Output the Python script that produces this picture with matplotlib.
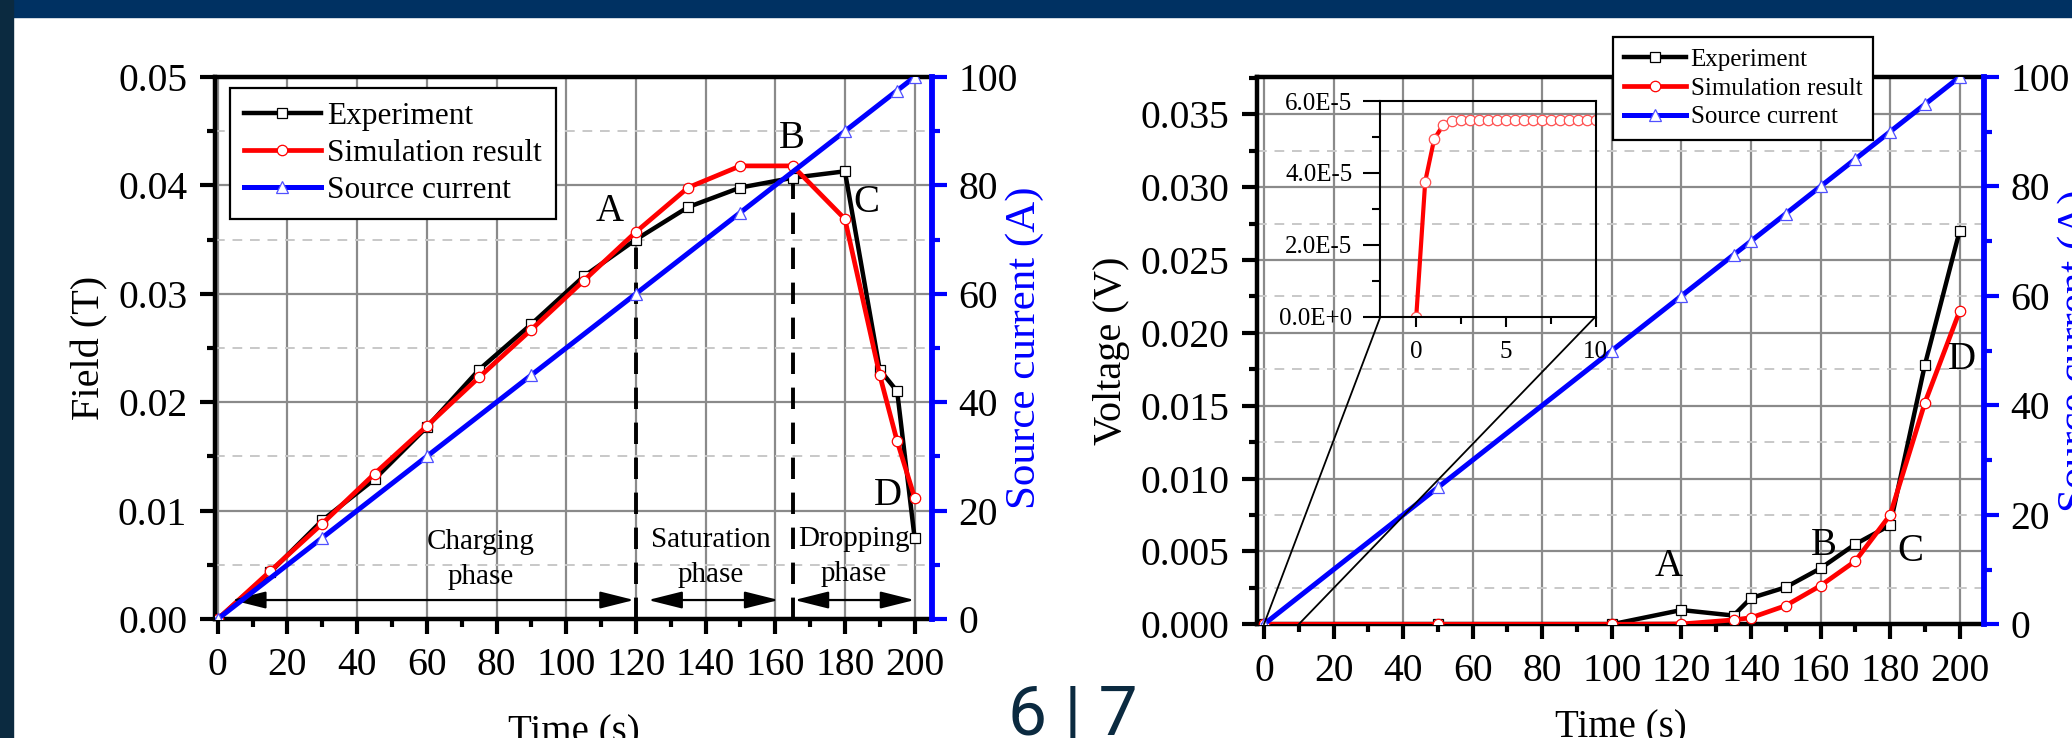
import matplotlib
matplotlib.use("Agg")
import matplotlib.pyplot as plt
from matplotlib.patches import Rectangle, ConnectionPatch, ArrowStyle
from matplotlib.ticker import MultipleLocator, FormatStrFormatter

plt.rcParams['font.family'] = ['Liberation Serif', 'DejaVu Serif']

# --- magnetic field during charging / saturation / dropping ---
field_time = [0, 15, 30, 45, 60, 75, 90, 105, 120, 135, 150, 165, 180, 190, 195, 200]
field_exp = [0.0, 0.0043, 0.0091, 0.0129, 0.0177, 0.0230, 0.0272, 0.0316, 0.0350,
             0.0380, 0.0398, 0.0407, 0.0413, 0.0230, 0.0210, 0.0075]
field_sim = [0.0, 0.0044, 0.0088, 0.0134, 0.0178, 0.0223, 0.0267, 0.0312, 0.0357,
             0.0398, 0.0418, 0.0418, 0.0369, 0.0225, 0.0164, 0.0112]
field_src_time = [0, 30, 60, 90, 120, 150, 180, 195, 200]
field_src = [0, 15, 30, 45, 60, 75, 90, 97.5, 100]

# --- terminal voltage over the same ramp ---
volt_time = [0, 50, 100, 120, 135, 140, 150, 160, 170, 180, 190, 200]
volt_exp = [0.0, 0.0, 0.0, 0.00098, 0.0006, 0.0018, 0.00254, 0.00384, 0.0055,
            0.0068, 0.0178, 0.0270]
volt_sim = [0.0, 0.0, 0.0, 0.00002, 0.0003, 0.00045, 0.00128, 0.00265, 0.00434,
            0.0075, 0.0152, 0.0215]
volt_src = [0, 25, 50, 60, 67.5, 70, 75, 80, 85, 90, 95, 100]

# first 10 s of the simulated voltage (zoomed view)
inset_time = [0, 0.5, 1.0, 1.5, 2.0, 2.5, 3.0, 3.5, 4.0, 4.5, 5.0, 5.5, 6.0, 6.5,
              7.0, 7.5, 8.0, 8.5, 9.0, 9.5, 10.0]
inset_sim = [0.0, 3.76e-5, 4.94e-5, 5.33e-5, 5.44e-5, 5.47e-5, 5.48e-5, 5.48e-5,
             5.48e-5, 5.48e-5, 5.48e-5, 5.48e-5, 5.48e-5, 5.48e-5, 5.48e-5,
             5.48e-5, 5.48e-5, 5.48e-5, 5.48e-5, 5.48e-5, 5.48e-5]
inset_yticks = [0, 2e-5, 4e-5, 6e-5]
inset_ylabels = ['0.0E+0', '2.0E-5', '4.0E-5', '6.0E-5']

phase_names = ['Charging\nphase', 'Saturation\nphase', 'Dropping\nphase']
phase_spans = [(4, 119.5), (123.5, 161), (165.5, 200)]
phase_text_pos = [(75.5, 0.0055), (141.6, 0.0057), (182.5, 0.0058)]
phase_marks = [120, 165]   # boundaries drawn as dashed lines

field_points = {'A': (112.5, 0.0376), 'B': (164.9, 0.0443), 'C': (186.1, 0.0384), 'D': (192.3, 0.0114)}
volt_points = {'A': (116.2, 0.0040), 'B': (160.9, 0.0054), 'C': (185.7, 0.0050), 'D': (200.7, 0.0182)}

GRID = '#8a8a8a'
MINOR_GRID = '#c8c8c8'
NAVY = '#003162'
DARK = '#0b2a40'
TICK_FS = 28.5


def style_axes(ax, ax2, xlim, ylim, ymaj, ymin, yfmt, xpad):
    ax.set_xlim(*xlim)
    ax.set_ylim(*ylim)
    ax2.set_ylim(0, 100)
    ax.xaxis.set_major_locator(MultipleLocator(20))
    ax.xaxis.set_minor_locator(MultipleLocator(10))
    ax.yaxis.set_major_locator(MultipleLocator(ymaj))
    ax.yaxis.set_minor_locator(MultipleLocator(ymin))
    ax.yaxis.set_major_formatter(FormatStrFormatter(yfmt))
    ax2.yaxis.set_major_locator(MultipleLocator(20))
    ax2.yaxis.set_minor_locator(MultipleLocator(10))

    ax.tick_params(which='major', direction='out', length=11, width=3, labelsize=TICK_FS,
                   top=False, right=False)
    ax.tick_params(which='minor', direction='out', length=6, width=3, top=False, right=False)
    ax.tick_params(axis='y', which='major', pad=9)
    ax.tick_params(axis='x', which='major', pad=xpad)
    ax2.tick_params(axis='y', which='major', direction='out', length=11, width=3,
                    color='blue', labelcolor='black', labelsize=TICK_FS, pad=8)
    ax2.tick_params(axis='y', which='minor', direction='out', length=6, width=3, color='blue')

    for s in ['left', 'bottom', 'top']:
        ax.spines[s].set_linewidth(3.2)
        ax2.spines[s].set_visible(False)
    ax.spines['right'].set_visible(False)
    ax2.spines['right'].set_color('blue')
    ax2.spines['right'].set_linewidth(4.2)

    ax.set_axisbelow(True)
    ax.grid(which='major', axis='both', color=GRID, lw=1.6)
    ax.yaxis.grid(which='minor', color=MINOR_GRID, lw=1.4, ls=(0, (5, 4)))


def plot_series(ax, ax2, t, exp, sim, t_src, src):
    ax.plot(t, exp, color='black', lw=3.2, marker='s', ms=6.5, mfc='white', mec='black',
            mew=0.9, label='Experiment', zorder=3)
    ax.plot(t, sim, color='red', lw=3.4, marker='o', ms=7.5, mfc='white', mec='red',
            mew=0.9, label='Simulation result', zorder=4)
    ax2.plot(t_src, src, color='blue', lw=3.6, marker='^', ms=8.5, mfc='white', mec='#5050ff',
             mew=0.9, label='Source current', zorder=5)


def add_legend(ax, ax2, anchor, fontsize):
    h1, l1 = ax.get_legend_handles_labels()
    h2, l2 = ax2.get_legend_handles_labels()
    leg = ax2.legend(h1 + h2, l1 + l2, loc='upper left', bbox_to_anchor=anchor,
                     borderaxespad=0, fancybox=False, framealpha=1, edgecolor='black',
                     fontsize=fontsize, handlelength=2.45, handletextpad=0.2,
                     labelspacing=0.25, borderpad=0.45, numpoints=1)
    leg.get_frame().set_linewidth(1.6)
    leg.set_zorder(20)


fig = plt.figure(figsize=(20.72, 7.38), dpi=100)

# slide chrome: title bar, side strip and page number
fig.patches.append(Rectangle((0, 1 - 17 / 738), 1, 17 / 738, transform=fig.transFigure,
                             color=NAVY, zorder=0))
fig.patches.append(Rectangle((0, 0), 13 / 2072, 1, transform=fig.transFigure,
                             color=DARK, zorder=0))
fig.text(1073 / 2072, 1 - 735 / 738, '6 | 7', family='Roboto', fontsize=50,
         color=DARK, ha='center', va='baseline')

# ---------------- left: field ----------------
axL = fig.add_axes([215 / 2072, 1 - 619 / 738, 717 / 2072, 542 / 738])
axL2 = axL.twinx()
style_axes(axL, axL2, (-0.8, 205), (0, 0.05), 0.01, 0.005, '%.2f', 9)
plot_series(axL, axL2, field_time, field_exp, field_sim, field_src_time, field_src)

for tm in phase_marks:
    axL.vlines(tm, 0, field_exp[field_time.index(tm)], colors='black', lw=2.8,
               linestyles=(0, (5.5, 3.5)), zorder=2)

head = ArrowStyle('<|-|>', head_length=1.4, head_width=0.35)
for (t0, t1) in phase_spans:
    axL.annotate('', xy=(t1, 0.00175), xytext=(t0, 0.00175),
                 arrowprops=dict(arrowstyle=head, mutation_scale=15, lw=1.6, color='black',
                                 shrinkA=0, shrinkB=0), zorder=6)
for name, (tx, ty) in zip(phase_names, phase_text_pos):
    axL.text(tx, ty, name, fontsize=21, ha='center', va='center', linespacing=1.45, zorder=6)
for lab, (tx, ty) in field_points.items():
    axL.text(tx, ty, lab, fontsize=28, ha='center', va='center', zorder=6)

axL.set_xlabel('Time (s)', fontsize=28, labelpad=22)
axL.set_ylabel('Field (T)', fontsize=29, labelpad=7)
axL2.set_ylabel('Source current (A)', fontsize=31, color='blue', labelpad=-9)
add_legend(axL, axL2, (0.021, 0.98), 22.5)

# ---------------- right: voltage ----------------
axR = fig.add_axes([1257 / 2072, 1 - 624.3 / 738, 727 / 2072, 547.3 / 738])
axR2 = axR.twinx()
style_axes(axR, axR2, (-2, 207), (0, 0.03756), 0.005, 0.0025, '%.3f', 10)
plot_series(axR, axR2, volt_time, volt_exp, volt_sim, volt_time, volt_src)
for lab, (tx, ty) in volt_points.items():
    axR.text(tx, ty, lab, fontsize=28, ha='center', va='center', zorder=6)

axR.set_xlabel('Time (s)', fontsize=28, labelpad=14)
axR.set_ylabel('Voltage (V)', fontsize=29, labelpad=7)
axR2.set_ylabel('Source current (A)', fontsize=31, color='blue', labelpad=-9)
add_legend(axR, axR2, (0.4897, 1.073), 18)

# zoomed view of the first 10 s
axI = fig.add_axes([1380.4 / 2072, 1 - 316.7 / 738, 215.1 / 2072, 215.7 / 738])
axI.set_facecolor('none')
axI.plot(inset_time, inset_sim, color='red', lw=3, marker='o', ms=7.5, mfc='white',
         mec='#ff5050', mew=0.9)
axI.set_xlim(-2, 10)
axI.set_ylim(0, 6e-5)
axI.set_xticks([0, 5, 10])
axI.xaxis.set_minor_locator(MultipleLocator(2.5))
axI.set_yticks(inset_yticks, inset_ylabels)
axI.yaxis.set_minor_locator(MultipleLocator(1e-5))
axI.tick_params(which='major', direction='out', width=1.5, labelsize=18)
axI.tick_params(axis='y', which='major', length=12, pad=8)
axI.tick_params(axis='x', which='major', length=7.5, pad=10)
axI.tick_params(axis='y', which='minor', direction='out', length=6, width=1.5)
axI.tick_params(axis='x', which='minor', direction='out', length=5, width=1.5)
for s in axI.spines.values():
    s.set_linewidth(1.5)

for corner, t_main in [((0, 0), 0), ((1, 0), 10)]:
    con = ConnectionPatch(xyA=corner, coordsA=axI.transAxes, xyB=(t_main, 0),
                          coordsB=axR.transData, color='black', lw=1.3)
    fig.add_artist(con)

fig.savefig('out.png', dpi=100)
